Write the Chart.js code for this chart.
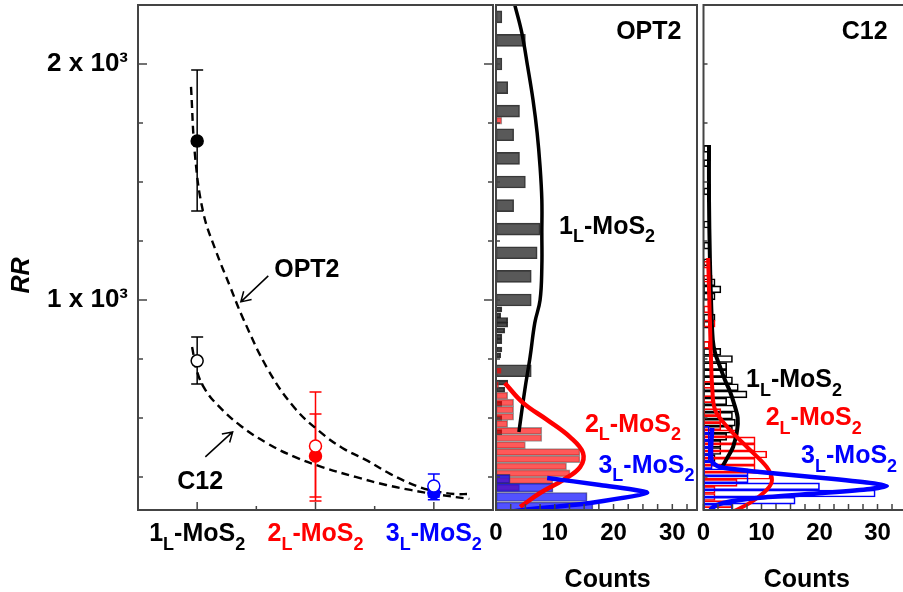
<!DOCTYPE html>
<html>
<head>
<meta charset="utf-8">
<title>RR of MoS2 layers</title>
<script src="https://cdn.jsdelivr.net/npm/chart.js@4.4.1/dist/chart.umd.min.js"></script>
<style>
html, body { margin: 0; padding: 0; background: #fff; width: 903px; height: 592px; overflow: hidden; }
canvas { position: absolute; top: 0; }
#left { left: 0; }
#mid { left: 480px; }
#right { left: 688px; }
</style>
</head>
<body>
<canvas id="left" width="495" height="592"></canvas>
<canvas id="mid" width="220" height="592"></canvas>
<canvas id="right" width="250" height="592"></canvas>
<script>
// left panel: RR per layer
const layerPos = [1, 2, 3];
const layerNames = ['1', '2', '3'];
const layerColors = ['#000000', '#ff0000', '#0000ff'];
const opt2RR = [1674, 339, 182];
const opt2Low = [1377, 165, 165];
const opt2High = [1975, 610, 205];
const c12RR = [742, 381, 212];
const c12Low = [644, 148, 153];
const c12High = [843, 517, 263];

// dashed guide curves
const opt2FitX = [0.948, 0.983, 1.052, 1.155, 1.283, 1.386, 1.601, 1.824, 2.039, 2.227, 2.442, 2.631, 2.854, 3.0, 3.172, 3.30];
const opt2FitRR = [1903, 1606, 1369, 1212, 1051, 924, 703, 542, 441, 373, 318, 263, 212, 191, 178, 178];
const c12FitX = [0.957, 1.0, 1.069, 1.172, 1.369, 1.601, 1.824, 2.056, 2.339, 2.597, 2.803, 3.0, 3.30];
const c12FitRR = [801, 695, 619, 555, 466, 390, 335, 292, 250, 216, 195, 178, 157];

// OPT2 histograms (RR bin centre, counts)
const opt2H1RR = [2200, 2100, 2000, 1900, 1800, 1700, 1600, 1500, 1400, 1300, 1200, 1100, 1000, 700];
const opt2H1Counts = [1, 5, 1, 2, 4, 3, 4, 5, 3, 7.5, 7, 6, 6, 6];
const opt2H1fRR = [960, 935, 915, 895, 870, 845, 825, 790, 765, 650, 620, 560, 500, 440];
const opt2H1fCounts = [1, 0.8, 2, 2, 1.5, 1, 1, 1, 0.8, 2, 1.5, 1, 1, 1];
const opt2H2RR = [1760, 700, 640, 595, 565, 535, 505, 475, 445, 415, 385, 355, 325, 295, 265, 235, 205];
const opt2H2Counts = [1, 1, 0.5, 2, 3, 3, 3, 2, 7.8, 7.8, 5, 14.3, 14.3, 12, 12.6, 9.7, 4];
const opt2H3RR = [242, 205, 165, 125];
const opt2H3Counts = [2.4, 9.7, 15.5, 16.5];

// OPT2 fits
const opt2Fit1Counts = [3.2, 4.4, 5.4, 6.3, 7.0, 7.5, 7.8, 7.8, 7.8, 7.5, 6.6, 5.8, 4.9, 3.9];
const opt2Fit1RR = [2250, 2131, 1987, 1847, 1708, 1564, 1424, 1284, 1140, 1000, 903, 758, 619, 441];
const opt2Fit2Counts = [1.5, 4.6, 8.7, 12.6, 14.8, 14.3, 11.4, 7.5, 4.1];
const opt2Fit2RR = [648, 564, 492, 419, 352, 292, 237, 182, 123];
const opt2Fit3Counts = [8.7, 17.7, 25.7, 16, 4.6, 2];
const opt2Fit3RR = [246, 216, 183, 140, 110, 100];

// C12 histograms
const c12H1RR = [1640, 1580, 1460, 1320, 1230, 1160, 1075, 1045, 1015, 925, 895, 780, 750, 720, 690, 660, 630, 600, 570, 540, 510, 480, 450, 420, 390, 360, 330];
const c12H1Counts = [1, 1, 1, 1, 1, 1, 2, 3, 2, 2, 1, 3, 5, 4, 4, 5, 6, 7.5, 4, 5.5, 5, 5.5, 5, 4, 3, 3, 2];
const c12H2RR = [1150, 1090, 960, 900, 810, 640, 580, 525, 495, 465, 435, 405, 375, 345, 315, 285, 255, 225, 195, 165, 135];
const c12H2Counts = [1, 1.5, 1, 2, 1, 1.5, 1.5, 3, 3, 3, 6, 8.9, 8.9, 10.9, 8.9, 8.9, 11.5, 5.8, 2, 2, 4.9];
const c12H3RR = [450, 420, 390, 360, 330, 300, 270, 240, 210, 180, 150, 120];
const c12H3Counts = [1, 1, 1, 1, 1, 1.5, 7.7, 7.7, 20, 29.6, 15.8, 5];

// C12 fits
const c12Fit1Counts = [0.95, 0.95, 1.1, 1.3, 1.6, 2.0, 2.8, 3.7, 4.6, 5.4, 5.9, 5.8, 5.1, 4.1, 3.2];
const c12Fit1RR = [1657, 1424, 1178, 1000, 831, 775, 720, 661, 610, 550, 500, 449, 377, 331, 292];
const c12Fit2Counts = [0.8, 1.1, 1.3, 1.5, 2.0, 4.1, 7.5, 10.9, 11.8, 10.9, 8.0, 4.6];
const c12Fit2RR = [1178, 915, 746, 631, 534, 462, 377, 292, 237, 195, 140, 97];
const c12Fit3Counts = [1.5, 1.3, 1.5, 2.8, 9.7, 20.6, 28.7, 31.6, 28.7, 20.6, 9.2, 3.4, 1.5, 0.8];
const c12Fit3RR = [458, 364, 314, 292, 271, 246, 225, 212, 199, 182, 161, 140, 119, 93];

// ticks
const rrMajor = [1000, 2000];
const rrMinor = [250, 500, 750, 1250, 1500, 1750];
const layerMinor = [1.5, 2.5];
const countLabels = [0, 10, 20, 30, 40];
const countTicks = [0, 2.5, 5, 7.5, 10, 12.5, 15, 17.5, 20, 22.5, 25, 27.5, 30, 32.5, 35, 37.5, 40];

const FONT = '"Liberation Sans", Arial, sans-serif';
const TXT = 25;
Chart.defaults.font.family = FONT;
Chart.defaults.font.size = 24;
Chart.defaults.font.weight = 'bold';
Chart.defaults.color = '#000';

function pts(xs, ys) { return xs.map((x, i) => ({x: x, y: ys[i]})); }
function layerText(n) { return [[n, false], ['L', true], ['-MoS', false], ['2', true]]; }

// text with subscripts, centred on cx / cy
function drawParts(ctx, parts, cx, cy, color, size) {
  const big = 'bold ' + size + 'px ' + FONT;
  const small = 'bold ' + Math.round(size * 0.7) + 'px ' + FONT;
  let w = 0;
  parts.forEach(p => { ctx.font = p[1] ? small : big; w += ctx.measureText(p[0]).width; });
  let x = cx - w / 2;
  const base = cy + size * 0.36;
  ctx.fillStyle = color;
  ctx.textAlign = 'left';
  ctx.textBaseline = 'alphabetic';
  parts.forEach(p => {
    ctx.font = p[1] ? small : big;
    ctx.fillText(p[0], x, p[1] ? base + size * 0.34 : base);
    x += ctx.measureText(p[0]).width;
  });
}

function drawArrow(ctx, x1, y1, x2, y2) {
  const ang = Math.atan2(y2 - y1, x2 - x1), L = 11;
  ctx.beginPath();
  ctx.moveTo(x1, y1); ctx.lineTo(x2, y2);
  ctx.moveTo(x2 - L * Math.cos(ang - 0.55), y2 - L * Math.sin(ang - 0.55));
  ctx.lineTo(x2, y2);
  ctx.lineTo(x2 - L * Math.cos(ang + 0.55), y2 - L * Math.sin(ang + 0.55));
  ctx.stroke();
}

const panelPlugin = {
  id: 'panel',
  beforeDatasetsDraw(chart, args, o) {
    if (!o.errors) return;
    const ctx = chart.ctx, xs = chart.scales.x, ys = chart.scales.y;
    ctx.save();
    ctx.lineWidth = 1.5;
    o.errors.forEach(e => {
      e.low.forEach((lo, i) => {
        const x = xs.getPixelForValue(layerPos[i]);
        const y1 = ys.getPixelForValue(lo), y2 = ys.getPixelForValue(e.high[i]);
        ctx.strokeStyle = layerColors[i];
        ctx.beginPath();
        ctx.moveTo(x, y1); ctx.lineTo(x, y2);
        ctx.moveTo(x - 6, y1); ctx.lineTo(x + 6, y1);
        ctx.moveTo(x - 6, y2); ctx.lineTo(x + 6, y2);
        ctx.stroke();
      });
    });
    ctx.restore();
  },
  afterDraw(chart, args, o) {
    const ctx = chart.ctx, a = chart.chartArea, xs = chart.scales.x, ys = chart.scales.y;
    ctx.save();
    ctx.strokeStyle = '#444';
    ctx.lineWidth = 2;
    ctx.strokeRect(a.left, a.top, a.right - a.left, a.bottom - a.top);
    // inward ticks
    ctx.lineWidth = 1.5;
    ctx.beginPath();
    (o.xTicks || []).forEach(t => {
      const x = xs.getPixelForValue(t[0]);
      ctx.moveTo(x, a.bottom); ctx.lineTo(x, a.bottom - t[1]);
    });
    (o.yTicks || []).forEach(t => {
      const y = ys.getPixelForValue(t[0]);
      ctx.moveTo(a.left, y); ctx.lineTo(a.left + t[1], y);
      if (o.mirrorY) { ctx.moveTo(a.right, y); ctx.lineTo(a.right - t[1], y); }
    });
    ctx.stroke();
    // annotations
    ctx.strokeStyle = '#000';
    ctx.lineWidth = 1.5;
    (o.arrows || []).forEach(r => {
      drawArrow(ctx, xs.getPixelForValue(r.from[0]), ys.getPixelForValue(r.from[1]),
        xs.getPixelForValue(r.to[0]), ys.getPixelForValue(r.to[1]));
    });
    (o.texts || []).forEach(t => {
      drawParts(ctx, t.parts, xs.getPixelForValue(t.x), ys.getPixelForValue(t.y), t.color, TXT);
    });
    if (o.layerLabels) {
      layerPos.forEach((p, i) => {
        drawParts(ctx, layerText(layerNames[i]), xs.getPixelForValue(p), a.bottom + 22, layerColors[i], TXT);
      });
    }
    if (o.xTitle) {
      drawParts(ctx, [[o.xTitle.text, false]], xs.getPixelForValue(o.xTitle.x), a.bottom + 68, '#000', TXT);
    }
    if (o.yTitle) {
      ctx.translate(a.left - 116, (a.top + a.bottom) / 2 + 18);
      ctx.rotate(-Math.PI / 2);
      ctx.font = 'italic bold 25px ' + FONT;
      ctx.fillStyle = '#000';
      ctx.textAlign = 'center';
      ctx.textBaseline = 'middle';
      ctx.fillText(o.yTitle, 0, 0);
    }
    ctx.restore();
  }
};

const rrTicks = rrMajor.map(v => [v, 9]).concat(rrMinor.map(v => [v, 5]));
const rrTicksSmall = rrMajor.concat(rrMinor).map(v => [v, 4]);
const countTickMarks = countTicks.map(v => [v, 6]);

function countAxis(max) {
  return {
    type: 'linear', min: 0, max: max, offset: false,
    grid: {display: false, drawTicks: false, offset: false}, border: {display: false},
    ticks: {padding: 9, autoSkip: false, maxRotation: 0},
    afterBuildTicks(s) { s.ticks = countLabels.filter(v => v <= max).map(v => ({value: v})); },
    afterFit(s) { s.height = 82; s.paddingLeft = 0; s.paddingRight = 0; }
  };
}
const hiddenRR = {type: 'linear', min: 110, max: 2250, display: false, offset: false, grid: {offset: false}};

function histBars(rr, counts, fill, edge, thick, order) {
  return {
    type: 'bar', indexAxis: 'y', grouped: false, data: pts(counts, rr),
    backgroundColor: fill, borderColor: edge, borderWidth: 1, borderSkipped: false,
    barThickness: thick, order: order
  };
}
function fitLine(counts, rr, color, width, tension, order) {
  return {
    type: 'line', data: pts(counts, rr), borderColor: color, borderWidth: width,
    pointRadius: 0, tension: tension, fill: false, order: order
  };
}

// left panel
new Chart(document.getElementById('left'), {
  type: 'scatter',
  data: {
    datasets: [
      {type: 'line', data: pts(opt2FitX, opt2FitRR), borderColor: '#000', borderWidth: 2.4,
        borderDash: [8, 5], pointRadius: 0, tension: 0.4, fill: false, order: 3},
      {type: 'line', data: pts(c12FitX, c12FitRR), borderColor: '#000', borderWidth: 2.4,
        borderDash: [8, 5], pointRadius: 0, tension: 0.4, fill: false, order: 3},
      {type: 'scatter', data: pts(layerPos, opt2RR), pointRadius: 6, pointBorderWidth: 1.5,
        pointBackgroundColor: layerColors, pointBorderColor: layerColors, order: 2},
      {type: 'scatter', data: pts(layerPos, c12RR), pointRadius: 6, pointBorderWidth: 1.5,
        pointBackgroundColor: '#ffffff', pointBorderColor: layerColors, order: 1}
    ]
  },
  options: {
    responsive: false, animation: false, devicePixelRatio: 1, events: [],
    layout: {autoPadding: false, padding: {left: 0, right: 2, top: 5, bottom: 0}},
    plugins: {
      legend: {display: false}, tooltip: {enabled: false},
      panel: {
        errors: [{low: opt2Low, high: opt2High}, {low: c12Low, high: c12High}],
        xTicks: layerPos.map(v => [v, 8]).concat(layerMinor.map(v => [v, 4])),
        yTicks: rrTicks, mirrorY: true,
        arrows: [{from: [1.601, 1102], to: [1.369, 992]}, {from: [1.069, 335], to: [1.300, 441]}],
        texts: [
          {parts: [['OPT2', false]], x: 1.927, y: 1136, color: '#000'},
          {parts: [['C12', false]], x: 1.026, y: 237, color: '#000'}
        ],
        layerLabels: true,
        yTitle: 'RR'
      }
    },
    scales: {
      x: {
        type: 'linear', min: 0.5, max: 3.5, offset: false,
        grid: {display: false, drawTicks: false}, border: {display: false},
        ticks: {display: false},
        afterFit(s) { s.height = 82; s.paddingLeft = 0; s.paddingRight = 0; }
      },
      y: {
        type: 'linear', min: 110, max: 2250, offset: false,
        grid: {display: false, drawTicks: false}, border: {display: false},
        ticks: {padding: 10, font: {size: 26}, callback: v => (v / 1000) + ' x 10³'},
        afterBuildTicks(s) { s.ticks = rrMajor.map(v => ({value: v})); },
        afterFit(s) { s.width = 138; s.paddingTop = 0; s.paddingBottom = 0; }
      }
    }
  },
  plugins: [panelPlugin]
});

// middle panel: OPT2 histograms
new Chart(document.getElementById('mid'), {
  type: 'scatter',
  data: {
    datasets: [
      histBars(opt2H1RR, opt2H1Counts, 'rgba(60,60,60,0.85)', 'rgba(35,35,35,0.9)', 12, 6),
      histBars(opt2H1fRR, opt2H1fCounts, 'rgba(25,25,25,0.8)', 'rgba(10,10,10,0.8)', 5, 5),
      histBars(opt2H2RR, opt2H2Counts, 'rgba(255,0,0,0.65)', 'rgba(90,90,90,0.6)', 7, 4),
      histBars(opt2H3RR, opt2H3Counts, 'rgba(0,0,255,0.68)', 'rgba(40,40,90,0.7)', 9, 3),
      fitLine(opt2Fit1Counts, opt2Fit1RR, '#000', 3.5, 0.4, 2),
      fitLine(opt2Fit2Counts, opt2Fit2RR, '#ff0000', 4.5, 0.4, 1),
      fitLine(opt2Fit3Counts, opt2Fit3RR, '#0000ff', 4.5, 0.2, 0)
    ]
  },
  options: {
    responsive: false, animation: false, devicePixelRatio: 1, events: [],
    layout: {autoPadding: false, padding: {left: 16, right: 3, top: 5, bottom: 0}},
    plugins: {
      legend: {display: false}, tooltip: {enabled: false},
      panel: {
        xTicks: countTickMarks, yTicks: rrTicksSmall,
        texts: [
          {parts: [['OPT2', false]], x: 26.0, y: 2144, color: '#000'},
          {parts: layerText('1'), x: 18.9, y: 1318, color: '#000'},
          {parts: layerText('2'), x: 23.3, y: 479, color: '#ff0000'},
          {parts: layerText('3'), x: 25.6, y: 307, color: '#0000ff'}
        ],
        xTitle: {text: 'Counts', x: 19}
      }
    },
    scales: {x: countAxis(34.2), y: hiddenRR}
  },
  plugins: [panelPlugin]
});

// right panel: C12 histograms
new Chart(document.getElementById('right'), {
  type: 'scatter',
  data: {
    datasets: [
      histBars(c12H1RR, c12H1Counts, 'rgba(0,0,0,0)', '#000', 7, 5),
      histBars(c12H2RR, c12H2Counts, 'rgba(0,0,0,0)', '#ff0000', 7, 4),
      histBars(c12H3RR, c12H3Counts, 'rgba(0,0,0,0)', '#0000ff', 7, 3),
      fitLine(c12Fit1Counts, c12Fit1RR, '#000', 4, 0.35, 2),
      fitLine(c12Fit2Counts, c12Fit2RR, '#ff0000', 4, 0.35, 1),
      fitLine(c12Fit3Counts, c12Fit3RR, '#0000ff', 4.5, 0.25, 0)
    ]
  },
  options: {
    responsive: false, animation: false, devicePixelRatio: 1, events: [],
    layout: {autoPadding: false, padding: {left: 15.5, right: 0, top: 5, bottom: 0}},
    plugins: {
      legend: {display: false}, tooltip: {enabled: false},
      panel: {
        xTicks: countTickMarks, yTicks: rrTicksSmall,
        texts: [
          {parts: [['C12', false]], x: 27.8, y: 2144, color: '#000'},
          {parts: layerText('1'), x: 15.6, y: 669, color: '#000'},
          {parts: layerText('2'), x: 19.0, y: 508, color: '#ff0000'},
          {parts: layerText('3'), x: 25.1, y: 347, color: '#0000ff'}
        ],
        xTitle: {text: 'Counts', x: 17.8}
      }
    },
    scales: {x: countAxis(40.43), y: hiddenRR}
  },
  plugins: [panelPlugin]
});
</script>
</body>
</html>
